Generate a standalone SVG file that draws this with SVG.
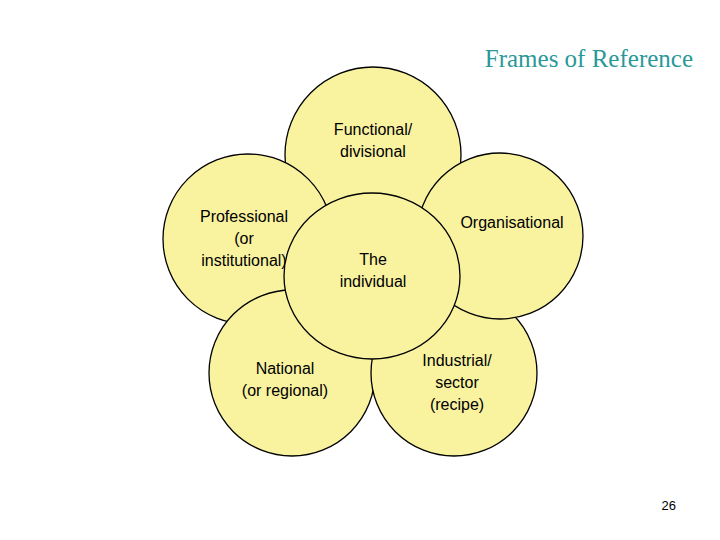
<svg xmlns="http://www.w3.org/2000/svg" width="720" height="540" viewBox="0 0 720 540">
<style>
.c{fill:#f9f3a0;stroke:#000;stroke-width:1.3}
.t{font-family:"Liberation Sans",Arial,sans-serif;font-size:16px;fill:#000;text-anchor:middle}
</style>
<rect width="720" height="540" fill="#fff"/>
<text x="693" y="67" font-family="Liberation Serif,serif" font-size="25" fill="#2a9898" text-anchor="end">Frames of Reference</text>
<g id="functional"><circle class="c" cx="373" cy="155" r="88"/><text class="t" x="373" y="135">Functional/</text><text class="t" x="373" y="157">divisional</text></g>
<g id="professional"><circle class="c" cx="248" cy="239" r="85"/><text class="t" x="244" y="222">Professional</text><text class="t" x="244" y="244">(or</text><text class="t" x="244" y="266">institutional)</text></g>
<g id="national"><circle class="c" cx="292" cy="373" r="83"/><text class="t" x="285" y="374">National</text><text class="t" x="285" y="396">(or regional)</text></g>
<g id="industrial"><circle class="c" cx="454" cy="373" r="83"/><text class="t" x="457" y="366">Industrial/</text><text class="t" x="457" y="388">sector</text><text class="t" x="457" y="410">(recipe)</text></g>
<g id="organisational"><circle class="c" cx="500" cy="236" r="83"/><text class="t" x="512" y="228">Organisational</text></g>
<g id="individual"><ellipse class="c" cx="372" cy="276" rx="88" ry="83"/><text class="t" x="373" y="265">The</text><text class="t" x="373" y="287">individual</text></g>
<g id="connectors"/>
<text x="676" y="510" font-family="Liberation Sans,Arial,sans-serif" font-size="13" text-anchor="end">26</text>
</svg>
